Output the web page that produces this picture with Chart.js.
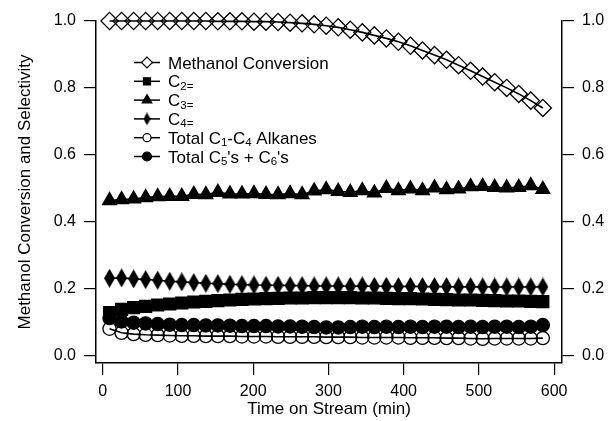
<!DOCTYPE html>
<html>
<head>
<meta charset="utf-8">
<script src="https://cdn.jsdelivr.net/npm/chart.js"></script>
<style>
  html, body { margin: 0; padding: 0; background: #fff; }
  #chart { display: block; }
</style>
</head>
<body>
<canvas id="chart" width="609" height="421"></canvas>
<script>
// time on stream (min)
const times = [9, 25, 41, 57, 73, 89, 105, 121, 137, 153, 169, 185, 201, 217, 233, 249, 265, 281, 297,
  313, 329, 345, 361, 377, 393, 409, 425, 441, 457, 473, 489, 505, 521, 537, 553, 569, 585];

const methanolConv = [1.000, 1.000, 1.000, 1.000, 1.000, 1.000, 1.000, 1.000, 1.000, 0.999, 0.999, 0.999,
  0.998, 0.998, 0.997, 0.995, 0.993, 0.990, 0.986, 0.981, 0.974, 0.966, 0.957, 0.948, 0.938, 0.926, 0.912,
  0.898, 0.884, 0.868, 0.851, 0.834, 0.817, 0.800, 0.782, 0.762, 0.740];

const c2 = [0.128, 0.138, 0.143, 0.147, 0.151, 0.154, 0.157, 0.160, 0.162, 0.164, 0.166, 0.168, 0.169,
  0.170, 0.171, 0.172, 0.172, 0.173, 0.173, 0.173, 0.173, 0.172, 0.172, 0.171, 0.170, 0.170, 0.169, 0.168,
  0.167, 0.166, 0.166, 0.165, 0.164, 0.163, 0.163, 0.162, 0.161];

const c3 = [0.463, 0.466, 0.468, 0.472, 0.475, 0.476, 0.476, 0.482, 0.481, 0.488, 0.483, 0.483, 0.484,
  0.482, 0.481, 0.484, 0.481, 0.492, 0.496, 0.491, 0.488, 0.493, 0.486, 0.500, 0.493, 0.498, 0.493, 0.501,
  0.496, 0.498, 0.505, 0.506, 0.503, 0.501, 0.503, 0.508, 0.497];

const c4 = [0.231, 0.232, 0.229, 0.227, 0.225, 0.222, 0.220, 0.218, 0.216, 0.215, 0.213, 0.212, 0.211,
  0.210, 0.210, 0.209, 0.209, 0.208, 0.208, 0.208, 0.207, 0.208, 0.207, 0.207, 0.206, 0.207, 0.206, 0.206,
  0.206, 0.205, 0.206, 0.205, 0.205, 0.205, 0.205, 0.205, 0.205];

const alkanes = [0.080, 0.068, 0.064, 0.062, 0.061, 0.060, 0.059, 0.059, 0.058, 0.058, 0.058, 0.057, 0.057,
  0.057, 0.056, 0.056, 0.056, 0.056, 0.055, 0.055, 0.055, 0.054, 0.054, 0.054, 0.054, 0.053, 0.053, 0.053,
  0.052, 0.052, 0.051, 0.050, 0.051, 0.051, 0.051, 0.051, 0.052];

const c5c6 = [0.112, 0.102, 0.098, 0.096, 0.094, 0.092, 0.091, 0.091, 0.090, 0.090, 0.089, 0.088, 0.088,
  0.088, 0.087, 0.087, 0.086, 0.085, 0.084, 0.084, 0.085, 0.086, 0.085, 0.086, 0.085, 0.086, 0.085, 0.086,
  0.086, 0.085, 0.086, 0.085, 0.086, 0.086, 0.085, 0.086, 0.091];

const seriesLabels = ["Methanol Conversion", "C₂₌", "C₃₌", "C₄₌", "Total C₁-C₄ Alkanes", "Total C₅'s + C₆'s"];
const xTicks = [0, 100, 200, 300, 400, 500, 600];
const yTicks = [0, 0.2, 0.4, 0.6, 0.8, 1.0];

const FONT = '"Liberation Sans", Arial, Helvetica, sans-serif';

// narrow filled diamond used for the C4= marker
function thinDiamond(w, h) {
  const c = document.createElement("canvas");
  c.width = w; c.height = h;
  const g = c.getContext("2d");
  g.fillStyle = "#000";
  g.beginPath();
  g.moveTo(w / 2, 0); g.lineTo(w, h / 2); g.lineTo(w / 2, h); g.lineTo(0, h / 2);
  g.closePath();
  g.fill();
  return c;
}

const markers = [
  { style: "rectRot", r: 8.6, fill: "rgba(0,0,0,0)", lr: 5.5 },
  { style: "rect", r: 8.4, fill: "#000", lr: 5 },
  { style: "triangle", r: 8, fill: "#000", lr: 5.5 },
  { style: thinDiamond(11, 19), r: 9, fill: "#000", lstyle: thinDiamond(7, 13) },
  { style: "circle", r: 6.6, fill: "rgba(0,0,0,0)", lr: 4 },
  { style: "circle", r: 6.6, fill: "#000", lr: 4.5 }
];

const values = [methanolConv, c2, c3, c4, alkanes, c5c6];

const datasets = values.map((arr, i) => ({
  label: seriesLabels[i],
  data: times.map((t, k) => ({ x: t, y: arr[k] })),
  borderColor: "#000",
  borderWidth: 1.6,
  pointStyle: markers[i].style,
  pointRadius: markers[i].r,
  pointBackgroundColor: markers[i].fill,
  pointBorderColor: "#000",
  pointBorderWidth: 1.3,
  tension: 0,
  clip: false,
  order: 10 - i
}));

const SUB = "₀₁₂₃₄₅₆₇₈₉₌";
const NORM = "0123456789=";

function drawRich(ctx, text, x, y) {
  const runs = [];
  for (const ch of text) {
    const k = SUB.indexOf(ch);
    const sub = k >= 0;
    const c = sub ? NORM[k] : ch;
    if (runs.length && runs[runs.length - 1].sub === sub) runs[runs.length - 1].t += c;
    else runs.push({ t: c, sub });
  }
  ctx.textBaseline = "alphabetic";
  ctx.textAlign = "left";
  ctx.fillStyle = "#000";
  const base = y + 6;
  for (const r of runs) {
    ctx.font = (r.sub ? "11.5px " : "17px ") + FONT;
    ctx.fillText(r.t, x, base + (r.sub ? 2.5 : 0));
    x += ctx.measureText(r.t).width;
  }
}

const insideLegend = {
  id: "insideLegend",
  afterDraw(chart) {
    const ctx = chart.ctx;
    const x0 = 134, x1 = 160, tx = 168, y0 = 62.5, dy = 18.8;
    chart.data.datasets.forEach((ds, i) => {
      const y = y0 + i * dy;
      const m = markers[i];
      ctx.save();
      ctx.strokeStyle = "#000";
      ctx.lineWidth = 1.5;
      ctx.beginPath();
      ctx.moveTo(x0, y);
      ctx.lineTo(x1, y);
      ctx.stroke();
      ctx.fillStyle = m.fill === "#000" ? "#000" : "#fff";
      ctx.lineWidth = 1.2;
      Chart.helpers.drawPoint(ctx, {
        pointStyle: m.lstyle || m.style,
        radius: m.lr || 5,
        borderWidth: 1.2,
        rotation: 0
      }, (x0 + x1) / 2, y);
      drawRich(ctx, ds.label, tx, y);
      ctx.restore();
    });
  }
};

const tickFont = { family: FONT, size: 16 };
const titleFont = { family: FONT, size: 17 };
const axisGrid = { drawOnChartArea: false, tickLength: 12, color: "#000", lineWidth: 1.2 };
const axisBorder = { color: "#000", width: 1.5 };

new Chart(document.getElementById("chart"), {
  type: "line",
  data: { datasets },
  options: {
    responsive: false,
    animation: false,
    devicePixelRatio: 1,
    layout: { padding: { top: 21, left: 0, right: 0, bottom: 0 } },
    plugins: { legend: { display: false }, tooltip: { enabled: false } },
    scales: {
      x: {
        type: "linear",
        min: -9,
        max: 610.5,
        afterBuildTicks: s => { s.ticks = xTicks.map(v => ({ value: v })); },
        afterFit: s => { s.height = 58; },
        grid: axisGrid,
        border: axisBorder,
        ticks: { font: tickFont, color: "#000", padding: 7, maxRotation: 0, autoSkip: false,
          callback: v => String(v) },
        title: { display: true, text: "Time on Stream (min)", font: titleFont, color: "#000",
          padding: { top: 0, bottom: 1 } }
      },
      y: {
        type: "linear",
        position: "left",
        min: -0.0224,
        max: 1.0,
        afterBuildTicks: s => { s.ticks = yTicks.map(v => ({ value: v })); },
        afterFit: s => { s.width = 96; },
        grid: axisGrid,
        border: axisBorder,
        ticks: { font: tickFont, color: "#000", padding: 8, autoSkip: false,
          callback: v => v.toFixed(1) },
        title: { display: true, text: "Methanol Conversion and Selectivity", font: titleFont, color: "#000",
          padding: { top: 15, bottom: 0 } }
      },
      y2: {
        type: "linear",
        position: "right",
        min: -0.0224,
        max: 1.0,
        afterBuildTicks: s => { s.ticks = yTicks.map(v => ({ value: v })); },
        afterFit: s => { s.width = 47; },
        grid: axisGrid,
        border: axisBorder,
        ticks: { font: tickFont, color: "#000", padding: 8, autoSkip: false,
          callback: v => v.toFixed(1) }
      }
    }
  },
  plugins: [insideLegend]
});
</script>
</body>
</html>
